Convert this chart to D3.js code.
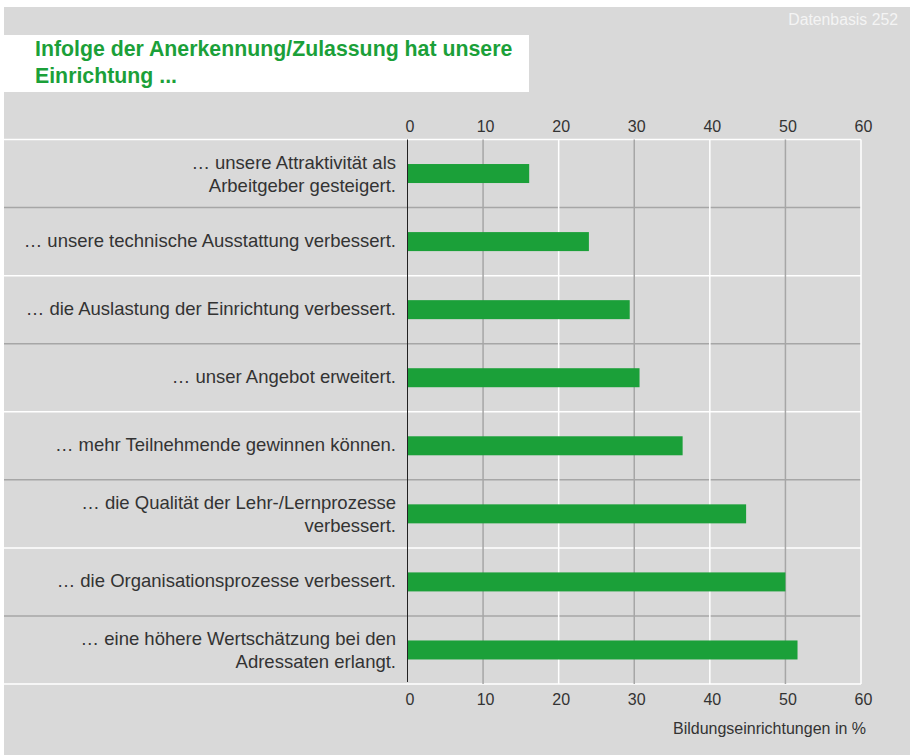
<!DOCTYPE html>
<html>
<head>
<meta charset="utf-8">
<script src="https://cdn.jsdelivr.net/npm/d3@7"></script>
<style>
  body { margin: 0; background: #fff; }
  svg { display: block; font-family: "Liberation Sans", Arial, sans-serif; }
</style>
</head>
<body>
<svg id="chart" width="910" height="755"></svg>
<script>
const categories = [
  ['… unsere Attraktivität als', 'Arbeitgeber gesteigert.'],
  ['… unsere technische Ausstattung verbessert.'],
  ['… die Auslastung der Einrichtung verbessert.'],
  ['… unser Angebot erweitert.'],
  ['… mehr Teilnehmende gewinnen können.'],
  ['… die Qualität der Lehr-/Lernprozesse', 'verbessert.'],
  ['… die Organisationsprozesse verbessert.'],
  ['… eine höhere Wertschätzung bei den', 'Adressaten erlangt.']
];
const values = [16.1, 24.0, 29.4, 30.7, 36.4, 44.8, 50.0, 51.6];
const ticks = [0, 10, 20, 30, 40, 50, 60];
const titleLines = ['Infolge der Anerkennung/Zulassung hat unsere', 'Einrichtung ...'];
const axisTitle = 'Bildungseinrichtungen in %';
const note = 'Datenbasis 252';

const green = '#1ba039';
const font = '"Liberation Sans", Arial, sans-serif';
const svg = d3.select('#chart');

svg.append('rect').attr('x', 4).attr('y', 7).attr('width', 906).attr('height', 748).attr('fill', '#d9d9d9');
svg.append('rect').attr('x', 4).attr('y', 35).attr('width', 525).attr('height', 57).attr('fill', '#fff');

svg.append('text').attr('fill', green)
  .attr('font-size', 21.3).attr('font-weight', 'bold')
  .selectAll('tspan').data(titleLines).join('tspan')
  .attr('x', 35).attr('y', (d, i) => 56 + i * 27).text(d => d);

svg.append('text').attr('x', 898).attr('y', 25).attr('text-anchor', 'end')
  .attr('fill', '#f4f4f4').attr('font-size', 15.8).text(note);

const x = d3.scaleLinear().domain([0, 60]).range([407.5, 861]);
const y = d3.scaleBand().domain(d3.range(categories.length)).range([139.5, 684]);

// row separators
svg.append('g').selectAll('line').data(d3.range(categories.length + 1)).join('line')
  .attr('x1', 4).attr('x2', x(60))
  .attr('y1', i => i < categories.length ? y(i) : y.range()[1])
  .attr('y2', i => i < categories.length ? y(i) : y.range()[1])
  .attr('stroke', i => i % 2 ? '#a6a6a6' : '#fff').attr('stroke-width', 1.5);

// vertical grid
svg.append('g').selectAll('line').data(ticks.slice(1)).join('line')
  .attr('x1', d => x(d)).attr('x2', d => x(d))
  .attr('y1', y.range()[0]).attr('y2', y.range()[1])
  .attr('stroke', d => (d / 10) % 2 ? '#a6a6a6' : '#fff').attr('stroke-width', 1.5);

svg.append('g').selectAll('rect').data(values).join('rect')
  .attr('x', x(0)).attr('y', (d, i) => y(i) + y.bandwidth() / 2 - 9.5)
  .attr('width', d => x(d) - x(0)).attr('height', 19).attr('fill', green);

svg.append('line').attr('x1', x(0)).attr('x2', x(0))
  .attr('y1', y.range()[0]).attr('y2', y.range()[1] - 2)
  .attr('stroke', '#222').attr('stroke-width', 1);

const topAxis = d3.axisTop(x).tickValues(ticks).tickSize(0).tickPadding(0);
const botAxis = d3.axisBottom(x).tickValues(ticks).tickSize(0).tickPadding(0);
[svg.append('g').attr('transform', 'translate(0,132)').call(topAxis),
 svg.append('g').attr('transform', 'translate(0,694)').call(botAxis)].forEach(g => {
  g.select('.domain').remove();
  g.selectAll('text').attr('font-size', 16).attr('fill', '#333')
    .attr('font-family', font).attr('dx', 2);
});

svg.append('text').attr('x', 866).attr('y', 734).attr('text-anchor', 'end')
  .attr('fill', '#333').attr('font-size', 16).text(axisTitle);

const labels = svg.append('g').selectAll('text').data(categories).join('text')
  .attr('text-anchor', 'end').attr('fill', '#333').attr('font-size', 18.5);
labels.each(function (lines, i) {
  const cy = y(i) + y.bandwidth() / 2;
  const y0 = lines.length > 1 ? cy - 4.5 : cy + 5.5;
  d3.select(this).selectAll('tspan').data(lines).join('tspan')
    .attr('x', 396).attr('y', (d, j) => y0 + j * 23).text(d => d);
});
</script>
</body>
</html>
